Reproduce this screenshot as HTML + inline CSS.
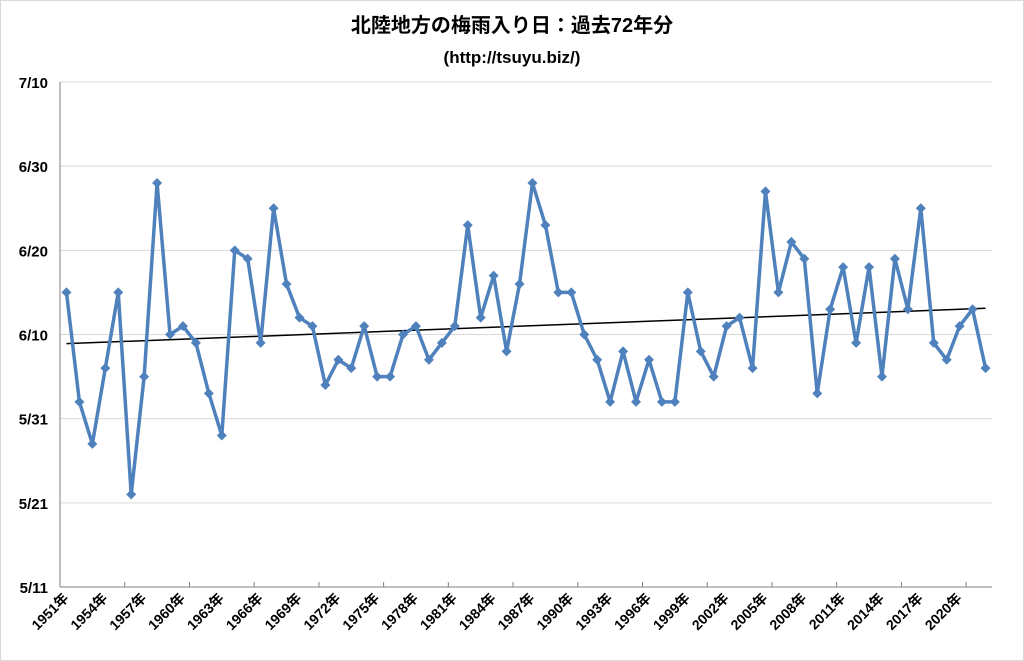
<!DOCTYPE html>
<html><head><meta charset="utf-8"><style>
body{margin:0;background:#fff;}
svg{display:block;font-family:"Liberation Sans","Noto Sans CJK JP",sans-serif;}
</style></head><body>
<svg id="chart" width="1024" height="661">
<rect x="0.5" y="0.5" width="1023" height="660" fill="#fff" stroke="#d9d9d9"/>
<text x="512" y="32" text-anchor="middle" font-size="20" font-weight="bold">北陸地方の梅雨入り日：過去72年分</text>
<text x="512" y="63" text-anchor="middle" font-size="17" font-weight="bold">(http://tsuyu.biz/)</text>
<g id="grid"></g><g id="axes"></g><g id="trend"></g><g id="series"></g>
</svg>
<script>
const years=[];for(let y=1951;y<=2022;y++)years.push(y);
const dayValues=[35,22,17,26,35,11,25,48,30,31,29,23,18,40,39,29,45,36,32,31,24,27,26,31,25,25,30,31,27,29,31,43,32,37,28,36,48,43,35,35,30,27,22,28,22,27,22,22,35,28,25,31,32,26,47,35,41,39,23,33,38,29,38,25,39,33,45,29,27,31,33,26];
const tickDays=[0,10,20,30,40,50,60];
const tickLabels=["5/11","5/21","5/31","6/10","6/20","6/30","7/10"];
const NS="http://www.w3.org/2000/svg";
const L=60,R=992,T=82,B=587;
const W=(R-L)/years.length;
const xs=i=>L+W*(i+0.5);
const ys=d=>B-(B-T)*d/60;
function mk(tag,attrs,parent){const e=document.createElementNS(NS,tag);for(const k in attrs)e.setAttribute(k,attrs[k]);document.getElementById(parent).appendChild(e);return e;}
tickDays.forEach((d,i)=>{
 const g=mk('line',{x1:L,x2:R,y1:ys(d),y2:ys(d),stroke:'#d9d9d9','stroke-width':1},'grid');
 
 
 const t=mk('text',{x:L-12,y:ys(d)+6,'text-anchor':'end','font-size':15,'font-weight':'bold'},'axes');
 t.textContent=tickLabels[i];
 
 
});
const ax=mk('line',{x1:L,x2:L,y1:T,y2:B,stroke:'#7f7f7f'},'axes');


const bx=mk('line',{x1:L,x2:R,y1:B,y2:B,stroke:'#7f7f7f'},'axes');


years.forEach((y,i)=>{
 if(i>0&&i%5===0){
  const tk=mk('line',{x1:L+W*i,x2:L+W*i,y1:B,y2:B-5,stroke:'#7f7f7f'},'axes');
  
  
 }
 if(i%3===0){
  const x=xs(i)+3,yy=B+12;
  const t=mk('text',{x:x,y:yy,'text-anchor':'end','font-size':14,'font-weight':'bold',transform:`rotate(-45 ${x} ${yy})`},'axes');
  t.textContent=y+'年';
  
  
 }
});
const n=dayValues.length;let sx=0,sy=0,sxy=0,sxx=0;
dayValues.forEach((v,i)=>{sx+=i;sy+=v;sxy+=i*v;sxx+=i*i;});
const slope=(n*sxy-sx*sy)/(n*sxx-sx*sx),icp=(sy-slope*sx)/n;
const tl=mk('line',{x1:xs(0),y1:ys(icp),x2:xs(n-1),y2:ys(icp+slope*(n-1)),stroke:'#000','stroke-width':1.5},'trend');


const pl=mk('polyline',{points:dayValues.map((v,i)=>xs(i)+','+ys(v)).join(' '),fill:'none',stroke:'#4f81bd','stroke-width':3.5,'stroke-linejoin':'round'},'series');


dayValues.forEach((v,i)=>{
 const x=xs(i),y=ys(v);
 const p=mk('polygon',{points:`${x},${y-5} ${x+5},${y} ${x},${y+5} ${x-5},${y}`,fill:'#4f81bd'},'series');
 
 
});
</script>
</body></html>
